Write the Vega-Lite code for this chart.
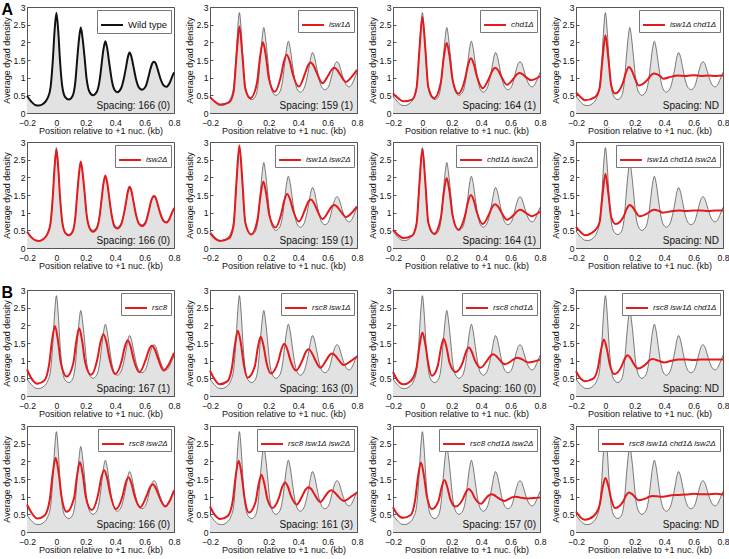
{
"$schema":"https://vega.github.io/schema/vega-lite/v6.json",
"background":"white",
"padding":{"left":1,"top":1,"right":0,"bottom":0},
"datasets":{
"dash":[{"x":0},{"x":0.2},{"x":0.4},{"x":0.6}],
"spacing":[
{"c":"Wild type","t":"Spacing: 166 (0)"},{"c":"isw1Δ","t":"Spacing: 159 (1)"},{"c":"chd1Δ","t":"Spacing: 164 (1)"},{"c":"isw1Δ chd1Δ","t":"Spacing: ND"},
{"c":"isw2Δ","t":"Spacing: 166 (0)"},{"c":"isw1Δ isw2Δ","t":"Spacing: 159 (1)"},{"c":"chd1Δ isw2Δ","t":"Spacing: 164 (1)"},{"c":"isw1Δ chd1Δ isw2Δ","t":"Spacing: ND"},
{"c":"rsc8","t":"Spacing: 167 (1)"},{"c":"rsc8 isw1Δ","t":"Spacing: 163 (0)"},{"c":"rsc8 chd1Δ","t":"Spacing: 160 (0)"},{"c":"rsc8 isw1Δ chd1Δ","t":"Spacing: ND"},
{"c":"rsc8 isw2Δ","t":"Spacing: 166 (0)"},{"c":"rsc8 isw1Δ isw2Δ","t":"Spacing: 161 (3)"},{"c":"rsc8 chd1Δ isw2Δ","t":"Spacing: 157 (0)"},{"c":"rsc8 isw1Δ chd1Δ isw2Δ","t":"Spacing: ND"}
],
"curves":[
{"c":"Wild type","x":[-0.2,-0.17,-0.14,-0.12,-0.09,-0.06,-0.04,-0.025,-0.012,0,0.012,0.025,0.04,0.06,0.085,0.11,0.128,0.142,0.154,0.166,0.178,0.191,0.206,0.225,0.248,0.275,0.295,0.308,0.32,0.333,0.346,0.36,0.378,0.396,0.415,0.44,0.46,0.474,0.486,0.498,0.51,0.524,0.542,0.562,0.583,0.608,0.626,0.64,0.652,0.664,0.676,0.69,0.708,0.728,0.748,0.77,0.785,0.8],
"y":[0.48,0.32,0.22,0.21,0.26,0.42,0.72,1.45,2.35,2.84,2.35,1.45,0.75,0.45,0.38,0.48,0.85,1.55,2.1,2.42,2.12,1.6,0.95,0.6,0.5,0.6,0.95,1.4,1.8,2.03,1.82,1.4,0.9,0.65,0.59,0.7,1.0,1.3,1.58,1.71,1.6,1.32,0.95,0.72,0.66,0.76,1.02,1.25,1.4,1.45,1.4,1.22,0.97,0.79,0.74,0.85,1.0,1.15]},
{"c":"isw2Δ","x":[-0.2,-0.17,-0.14,-0.12,-0.09,-0.06,-0.04,-0.025,-0.012,0,0.012,0.025,0.04,0.06,0.085,0.11,0.128,0.142,0.154,0.166,0.178,0.191,0.206,0.225,0.248,0.275,0.295,0.308,0.32,0.333,0.346,0.36,0.378,0.396,0.415,0.44,0.46,0.474,0.486,0.498,0.51,0.524,0.542,0.562,0.583,0.608,0.626,0.64,0.652,0.664,0.676,0.69,0.708,0.728,0.748,0.77,0.785,0.8],
"y":[0.46,0.3,0.21,0.2,0.25,0.41,0.7,1.42,2.3,2.78,2.3,1.42,0.73,0.43,0.36,0.46,0.84,1.55,2.12,2.45,2.14,1.6,0.93,0.57,0.46,0.56,0.93,1.4,1.82,2.05,1.84,1.4,0.88,0.6,0.55,0.66,0.98,1.3,1.6,1.73,1.62,1.32,0.93,0.68,0.62,0.73,1.0,1.26,1.42,1.47,1.42,1.22,0.96,0.77,0.72,0.83,0.98,1.12]},
{"c":"isw1Δ","x":[-0.2,-0.16,-0.13,-0.07,-0.04,-0.02,0,0.02,0.04,0.075,0.12,0.14,0.16,0.18,0.2,0.24,0.282,0.302,0.322,0.342,0.362,0.405,0.445,0.465,0.485,0.505,0.525,0.565,0.605,0.625,0.645,0.665,0.685,0.725,0.765,0.8],
"y":[0.45,0.3,0.24,0.3,0.59,1.6,2.45,1.65,0.69,0.42,0.86,1.57,2.0,1.62,0.99,0.6,1.03,1.44,1.65,1.47,1.12,0.75,1.10,1.33,1.43,1.34,1.15,0.84,1.07,1.21,1.28,1.22,1.09,0.88,1.03,1.22]},
{"c":"chd1Δ","x":[-0.2,-0.16,-0.13,-0.07,-0.04,-0.02,0,0.02,0.04,0.08,0.125,0.145,0.165,0.185,0.205,0.245,0.29,0.31,0.33,0.35,0.37,0.41,0.455,0.475,0.495,0.515,0.535,0.575,0.62,0.64,0.66,0.68,0.70,0.74,0.8],
"y":[0.55,0.4,0.33,0.38,0.70,1.80,2.72,1.82,0.73,0.42,0.86,1.56,1.99,1.60,0.95,0.55,0.96,1.35,1.55,1.38,1.05,0.7,1.0,1.19,1.28,1.21,1.05,0.8,0.97,1.08,1.13,1.10,1.03,0.93,1.04]},
{"c":"isw1Δ chd1Δ","x":[-0.2,-0.16,-0.14,-0.07,-0.04,-0.02,0,0.02,0.04,0.065,0.12,0.14,0.16,0.18,0.2,0.225,0.29,0.31,0.33,0.35,0.37,0.395,0.45,0.49,0.55,0.6,0.65,0.7,0.75,0.8],
"y":[0.58,0.42,0.36,0.45,0.69,1.51,2.2,1.55,0.77,0.55,0.86,1.15,1.3,1.20,0.99,0.78,0.96,1.07,1.12,1.10,1.05,0.97,1.03,1.06,1.05,1.07,1.05,1.06,1.05,1.06]},
{"c":"isw1Δ isw2Δ","x":[-0.2,-0.16,-0.13,-0.07,-0.04,-0.02,0,0.02,0.04,0.08,0.123,0.143,0.163,0.183,0.203,0.245,0.285,0.305,0.325,0.345,0.365,0.405,0.445,0.465,0.485,0.505,0.525,0.565,0.605,0.625,0.645,0.665,0.685,0.725,0.765,0.8],
"y":[0.42,0.25,0.2,0.28,0.63,1.87,2.9,1.91,0.72,0.38,0.80,1.47,1.88,1.52,0.94,0.58,0.97,1.34,1.53,1.37,1.07,0.75,1.07,1.28,1.37,1.29,1.11,0.82,1.03,1.16,1.22,1.17,1.06,0.88,1.0,1.18]},
{"c":"chd1Δ isw2Δ","x":[-0.2,-0.16,-0.13,-0.07,-0.04,-0.02,0,0.02,0.04,0.08,0.125,0.145,0.165,0.185,0.205,0.245,0.29,0.31,0.33,0.35,0.37,0.41,0.455,0.475,0.495,0.515,0.535,0.575,0.625,0.645,0.665,0.685,0.705,0.745,0.8],
"y":[0.52,0.35,0.28,0.35,0.68,1.84,2.8,1.86,0.72,0.4,0.84,1.55,1.98,1.58,0.93,0.52,0.92,1.30,1.5,1.34,1.02,0.68,0.97,1.16,1.24,1.17,1.03,0.8,0.95,1.04,1.08,1.05,0.99,0.9,1.03]},
{"c":"isw1Δ chd1Δ isw2Δ","x":[-0.2,-0.16,-0.14,-0.07,-0.04,-0.02,0,0.02,0.04,0.07,0.125,0.145,0.165,0.185,0.205,0.23,0.29,0.31,0.33,0.35,0.37,0.39,0.45,0.5,0.55,0.6,0.65,0.7,0.75,0.8],
"y":[0.6,0.42,0.36,0.5,0.72,1.47,2.1,1.54,0.87,0.68,0.90,1.11,1.22,1.16,1.03,0.9,0.99,1.05,1.08,1.07,1.04,1.0,1.04,1.06,1.05,1.06,1.06,1.05,1.06,1.06]},
{"c":"rsc8","x":[-0.2,-0.17,-0.13,-0.08,-0.05,-0.03,-0.01,0.01,0.03,0.07,0.115,0.135,0.155,0.175,0.195,0.235,0.28,0.30,0.32,0.34,0.36,0.4,0.445,0.465,0.485,0.505,0.525,0.565,0.61,0.63,0.65,0.67,0.69,0.73,0.765,0.8],
"y":[0.75,0.5,0.35,0.45,0.88,1.56,1.98,1.59,0.95,0.55,0.93,1.54,1.92,1.56,0.97,0.6,1.07,1.52,1.75,1.53,1.08,0.62,1.01,1.39,1.58,1.40,1.04,0.67,1.06,1.31,1.42,1.31,1.08,0.72,0.9,1.22]},
{"c":"rsc8 isw1Δ","x":[-0.2,-0.17,-0.135,-0.08,-0.05,-0.03,-0.01,0.01,0.03,0.055,0.105,0.125,0.145,0.165,0.185,0.215,0.265,0.285,0.305,0.325,0.345,0.385,0.43,0.45,0.47,0.49,0.51,0.55,0.59,0.61,0.63,0.65,0.67,0.71,0.755,0.8],
"y":[0.72,0.48,0.33,0.42,0.82,1.46,1.85,1.49,0.89,0.52,0.84,1.36,1.68,1.40,0.93,0.64,0.99,1.31,1.48,1.33,1.03,0.72,1.03,1.23,1.32,1.24,1.07,0.8,1.01,1.14,1.2,1.15,1.05,0.88,0.98,1.12]},
{"c":"rsc8 chd1Δ","x":[-0.2,-0.17,-0.13,-0.08,-0.04,-0.02,0,0.02,0.04,0.065,0.105,0.125,0.145,0.165,0.185,0.225,0.275,0.295,0.315,0.335,0.355,0.395,0.44,0.46,0.48,0.5,0.52,0.56,0.605,0.625,0.645,0.665,0.685,0.72,0.8],
"y":[0.68,0.45,0.33,0.42,0.80,1.42,1.8,1.46,0.91,0.57,0.86,1.33,1.62,1.36,0.94,0.68,0.96,1.23,1.37,1.26,1.03,0.8,1.0,1.12,1.18,1.14,1.05,0.9,0.99,1.05,1.08,1.06,1.02,0.95,1.03]},
{"c":"rsc8 isw1Δ chd1Δ","x":[-0.2,-0.17,-0.14,-0.08,-0.05,-0.03,-0.01,0.01,0.03,0.06,0.11,0.13,0.15,0.17,0.19,0.22,0.28,0.30,0.32,0.34,0.36,0.4,0.45,0.5,0.55,0.6,0.65,0.7,0.75,0.8],
"y":[0.7,0.5,0.42,0.5,0.81,1.30,1.6,1.33,0.89,0.62,0.84,1.04,1.15,1.08,0.93,0.78,0.92,1.01,1.05,1.03,1.0,0.95,1.0,1.03,1.03,1.02,1.03,1.03,1.03,1.03]},
{"c":"rsc8 isw2Δ","x":[-0.2,-0.17,-0.13,-0.08,-0.045,-0.025,-0.005,0.015,0.035,0.07,0.12,0.14,0.16,0.18,0.2,0.24,0.285,0.305,0.325,0.345,0.365,0.405,0.45,0.47,0.49,0.51,0.53,0.57,0.615,0.635,0.655,0.675,0.695,0.74,0.77,0.8],
"y":[0.78,0.55,0.38,0.47,0.92,1.65,2.1,1.68,1.0,0.57,0.96,1.59,1.98,1.61,1.0,0.62,1.08,1.53,1.75,1.53,1.10,0.65,1.02,1.37,1.55,1.38,1.05,0.7,1.04,1.25,1.35,1.25,1.05,0.72,0.88,1.18]},
{"c":"rsc8 isw1Δ isw2Δ","x":[-0.2,-0.17,-0.13,-0.08,-0.045,-0.025,-0.005,0.015,0.035,0.065,0.11,0.13,0.15,0.17,0.19,0.225,0.27,0.29,0.31,0.33,0.35,0.39,0.43,0.45,0.47,0.49,0.51,0.55,0.585,0.605,0.625,0.645,0.665,0.71,0.76,0.8],
"y":[0.72,0.5,0.37,0.45,0.89,1.59,2.02,1.62,0.96,0.55,0.85,1.33,1.62,1.36,0.94,0.68,0.98,1.26,1.4,1.28,1.03,0.78,1.04,1.2,1.27,1.21,1.07,0.85,1.02,1.13,1.18,1.13,1.04,0.88,1.0,1.12]},
{"c":"rsc8 chd1Δ isw2Δ","x":[-0.2,-0.17,-0.13,-0.08,-0.05,-0.03,-0.01,0.01,0.03,0.065,0.11,0.13,0.15,0.17,0.19,0.225,0.275,0.295,0.315,0.335,0.355,0.4,0.43,0.45,0.47,0.49,0.51,0.56,0.59,0.61,0.63,0.65,0.67,0.72,0.76,0.8],
"y":[0.7,0.5,0.4,0.48,0.89,1.56,1.97,1.61,1.02,0.65,0.88,1.25,1.47,1.26,0.93,0.72,0.93,1.12,1.22,1.14,0.97,0.8,0.94,1.03,1.07,1.04,0.98,0.88,0.94,0.98,1.0,0.99,0.97,0.95,0.96,0.98]},
{"c":"rsc8 isw1Δ chd1Δ isw2Δ","x":[-0.2,-0.17,-0.14,-0.08,-0.04,-0.02,0,0.02,0.04,0.065,0.12,0.14,0.16,0.18,0.2,0.225,0.28,0.3,0.32,0.35,0.39,0.45,0.5,0.55,0.6,0.65,0.7,0.75,0.8],
"y":[0.58,0.42,0.35,0.45,0.75,1.23,1.53,1.30,0.92,0.68,0.86,1.03,1.12,1.08,0.99,0.9,0.96,1.0,1.02,1.01,1.0,1.04,1.05,1.06,1.08,1.07,1.07,1.08,1.06]}
]},
"config":{
"font":"Liberation Sans",
"view":{"stroke":"#555","strokeWidth":1},
"axis":{"grid":false,"labelFontSize":8.6,"titleFontSize":9,"titleFontWeight":"normal","labelColor":"#111","titleColor":"#111","domainColor":"#555","tickColor":"#555","tickSize":-3,"labelOverlap":false,"labelFont":"Liberation Sans","titleFont":"Liberation Sans"},
"axisX":{"labelPadding":8,"titlePadding":0,"labelFlush":false},
"axisY":{"labelPadding":5,"titlePadding":2},
"legend":{"labelFont":"Liberation Sans","orient":"top-right","offset":3,"padding":3,"strokeColor":"#777","fillColor":"white","symbolType":"stroke","symbolStrokeWidth":2,"symbolSize":480,"labelFontSize":8,"labelFontStyle":"italic","labelColor":"#111"},
"title":{"anchor":"start","fontSize":16,"fontWeight":"bold","font":"Liberation Sans","offset":-15,"frame":"bounds","color":"black"}
},
"resolve":{"scale":{"color":"independent"},"legend":{"color":"independent"}},
"spacing":12,
"vconcat":[
{"title":"A","resolve":{"scale":{"color":"independent"},"legend":{"color":"independent"}},"spacing":0,
"vconcat":[
{"spacing":3,"resolve":{"scale":{"color":"independent"},"legend":{"color":"independent"}},"hconcat":[
{"width":147,"height":106,"data":{"name":"curves"},"encoding":{"x":{"field":"x","type":"quantitative","scale":{"domain":[-0.2,0.8],"nice":false},"axis":{"values":[-0.2,0,0.2,0.4,0.6,0.8],"format":"~g","title":"Position relative to +1 nuc. (kb)"}},"y":{"field":"y","type":"quantitative","scale":{"domain":[0,3],"nice":false},"axis":{"values":[0,0.5,1,1.5,2,2.5,3],"format":"~g","title":"Average dyad density"}}},
"layer":[
{"data":{"name":"dash"},"mark":{"type":"rule","color":"#8c8c8c","strokeDash":[4,3],"strokeWidth":0.8},"encoding":{"y":{"datum":0},"y2":{"datum":3}}},
{"transform":[{"filter":"datum.c=='Wild type'"},{"flatten":["x","y"]}],"mark":{"type":"area","fill":"#e2e2e2","interpolate":"monotone"}},
{"transform":[{"filter":"datum.c=='Wild type'"},{"flatten":["x","y"]}],"mark":{"type":"line","strokeWidth":2,"interpolate":"monotone"},"encoding":{"color":{"field":"c","type":"nominal","scale":{"range":["#111111"]},"legend":{"title":null,"labelFontStyle":"normal","labelFontSize":9.5}}}},
{"data":{"name":"spacing"},"transform":[{"filter":"datum.c=='Wild type'"}],"mark":{"type":"text","align":"right","baseline":"bottom","dx":-4,"dy":-2,"fontSize":10,"color":"#111"},"encoding":{"text":{"field":"t"},"x":{"value":"width"},"y":{"value":"height"}}}
]},
{"width":147,"height":106,"data":{"name":"curves"},"encoding":{"x":{"field":"x","type":"quantitative","scale":{"domain":[-0.2,0.8],"nice":false},"axis":{"values":[-0.2,0,0.2,0.4,0.6,0.8],"format":"~g","title":"Position relative to +1 nuc. (kb)"}},"y":{"field":"y","type":"quantitative","scale":{"domain":[0,3],"nice":false},"axis":{"values":[0,0.5,1,1.5,2,2.5,3],"format":"~g","title":"Average dyad density"}}},
"layer":[
{"data":{"name":"dash"},"mark":{"type":"rule","color":"#8c8c8c","strokeDash":[4,3],"strokeWidth":0.8},"encoding":{"y":{"datum":0},"y2":{"datum":3}}},
{"transform":[{"filter":"datum.c=='Wild type'"},{"flatten":["x","y"]}],"mark":{"type":"area","fill":"#e2e2e2","interpolate":"monotone"}},
{"transform":[{"filter":"datum.c=='Wild type'"},{"flatten":["x","y"]}],"mark":{"type":"line","strokeWidth":0.7,"color":"#444","interpolate":"monotone"}},
{"transform":[{"filter":"datum.c=='isw1Δ'"},{"flatten":["x","y"]}],"mark":{"type":"line","strokeWidth":2,"interpolate":"monotone"},"encoding":{"color":{"field":"c","type":"nominal","scale":{"range":["#e4191c"]},"legend":{"title":null}}}},
{"data":{"name":"spacing"},"transform":[{"filter":"datum.c=='isw1Δ'"}],"mark":{"type":"text","align":"right","baseline":"bottom","dx":-4,"dy":-2,"fontSize":10,"color":"#111"},"encoding":{"text":{"field":"t"},"x":{"value":"width"},"y":{"value":"height"}}}
]},
{"width":147,"height":106,"data":{"name":"curves"},"encoding":{"x":{"field":"x","type":"quantitative","scale":{"domain":[-0.2,0.8],"nice":false},"axis":{"values":[-0.2,0,0.2,0.4,0.6,0.8],"format":"~g","title":"Position relative to +1 nuc. (kb)"}},"y":{"field":"y","type":"quantitative","scale":{"domain":[0,3],"nice":false},"axis":{"values":[0,0.5,1,1.5,2,2.5,3],"format":"~g","title":"Average dyad density"}}},
"layer":[
{"data":{"name":"dash"},"mark":{"type":"rule","color":"#8c8c8c","strokeDash":[4,3],"strokeWidth":0.8},"encoding":{"y":{"datum":0},"y2":{"datum":3}}},
{"transform":[{"filter":"datum.c=='Wild type'"},{"flatten":["x","y"]}],"mark":{"type":"area","fill":"#e2e2e2","interpolate":"monotone"}},
{"transform":[{"filter":"datum.c=='Wild type'"},{"flatten":["x","y"]}],"mark":{"type":"line","strokeWidth":0.7,"color":"#444","interpolate":"monotone"}},
{"transform":[{"filter":"datum.c=='chd1Δ'"},{"flatten":["x","y"]}],"mark":{"type":"line","strokeWidth":2,"interpolate":"monotone"},"encoding":{"color":{"field":"c","type":"nominal","scale":{"range":["#e4191c"]},"legend":{"title":null}}}},
{"data":{"name":"spacing"},"transform":[{"filter":"datum.c=='chd1Δ'"}],"mark":{"type":"text","align":"right","baseline":"bottom","dx":-4,"dy":-2,"fontSize":10,"color":"#111"},"encoding":{"text":{"field":"t"},"x":{"value":"width"},"y":{"value":"height"}}}
]},
{"width":147,"height":106,"data":{"name":"curves"},"encoding":{"x":{"field":"x","type":"quantitative","scale":{"domain":[-0.2,0.8],"nice":false},"axis":{"values":[-0.2,0,0.2,0.4,0.6,0.8],"format":"~g","title":"Position relative to +1 nuc. (kb)"}},"y":{"field":"y","type":"quantitative","scale":{"domain":[0,3],"nice":false},"axis":{"values":[0,0.5,1,1.5,2,2.5,3],"format":"~g","title":"Average dyad density"}}},
"layer":[
{"data":{"name":"dash"},"mark":{"type":"rule","color":"#8c8c8c","strokeDash":[4,3],"strokeWidth":0.8},"encoding":{"y":{"datum":0},"y2":{"datum":3}}},
{"transform":[{"filter":"datum.c=='Wild type'"},{"flatten":["x","y"]}],"mark":{"type":"area","fill":"#e2e2e2","interpolate":"monotone"}},
{"transform":[{"filter":"datum.c=='Wild type'"},{"flatten":["x","y"]}],"mark":{"type":"line","strokeWidth":0.7,"color":"#444","interpolate":"monotone"}},
{"transform":[{"filter":"datum.c=='isw1Δ chd1Δ'"},{"flatten":["x","y"]}],"mark":{"type":"line","strokeWidth":2,"interpolate":"monotone"},"encoding":{"color":{"field":"c","type":"nominal","scale":{"range":["#e4191c"]},"legend":{"title":null}}}},
{"data":{"name":"spacing"},"transform":[{"filter":"datum.c=='isw1Δ chd1Δ'"}],"mark":{"type":"text","align":"right","baseline":"bottom","dx":-4,"dy":-2,"fontSize":10,"color":"#111"},"encoding":{"text":{"field":"t"},"x":{"value":"width"},"y":{"value":"height"}}}
]}
]},
{"spacing":3,"resolve":{"scale":{"color":"independent"},"legend":{"color":"independent"}},"hconcat":[
{"width":147,"height":106,"data":{"name":"curves"},"encoding":{"x":{"field":"x","type":"quantitative","scale":{"domain":[-0.2,0.8],"nice":false},"axis":{"values":[-0.2,0,0.2,0.4,0.6,0.8],"format":"~g","title":"Position relative to +1 nuc. (kb)"}},"y":{"field":"y","type":"quantitative","scale":{"domain":[0,3],"nice":false},"axis":{"values":[0,0.5,1,1.5,2,2.5,3],"format":"~g","title":"Average dyad density"}}},
"layer":[
{"data":{"name":"dash"},"mark":{"type":"rule","color":"#8c8c8c","strokeDash":[4,3],"strokeWidth":0.8},"encoding":{"y":{"datum":0},"y2":{"datum":3}}},
{"transform":[{"filter":"datum.c=='Wild type'"},{"flatten":["x","y"]}],"mark":{"type":"area","fill":"#e2e2e2","interpolate":"monotone"}},
{"transform":[{"filter":"datum.c=='Wild type'"},{"flatten":["x","y"]}],"mark":{"type":"line","strokeWidth":0.7,"color":"#444","interpolate":"monotone"}},
{"transform":[{"filter":"datum.c=='isw2Δ'"},{"flatten":["x","y"]}],"mark":{"type":"line","strokeWidth":2,"interpolate":"monotone"},"encoding":{"color":{"field":"c","type":"nominal","scale":{"range":["#e4191c"]},"legend":{"title":null}}}},
{"data":{"name":"spacing"},"transform":[{"filter":"datum.c=='isw2Δ'"}],"mark":{"type":"text","align":"right","baseline":"bottom","dx":-4,"dy":-2,"fontSize":10,"color":"#111"},"encoding":{"text":{"field":"t"},"x":{"value":"width"},"y":{"value":"height"}}}
]},
{"width":147,"height":106,"data":{"name":"curves"},"encoding":{"x":{"field":"x","type":"quantitative","scale":{"domain":[-0.2,0.8],"nice":false},"axis":{"values":[-0.2,0,0.2,0.4,0.6,0.8],"format":"~g","title":"Position relative to +1 nuc. (kb)"}},"y":{"field":"y","type":"quantitative","scale":{"domain":[0,3],"nice":false},"axis":{"values":[0,0.5,1,1.5,2,2.5,3],"format":"~g","title":"Average dyad density"}}},
"layer":[
{"data":{"name":"dash"},"mark":{"type":"rule","color":"#8c8c8c","strokeDash":[4,3],"strokeWidth":0.8},"encoding":{"y":{"datum":0},"y2":{"datum":3}}},
{"transform":[{"filter":"datum.c=='Wild type'"},{"flatten":["x","y"]}],"mark":{"type":"area","fill":"#e2e2e2","interpolate":"monotone"}},
{"transform":[{"filter":"datum.c=='Wild type'"},{"flatten":["x","y"]}],"mark":{"type":"line","strokeWidth":0.7,"color":"#444","interpolate":"monotone"}},
{"transform":[{"filter":"datum.c=='isw1Δ isw2Δ'"},{"flatten":["x","y"]}],"mark":{"type":"line","strokeWidth":2,"interpolate":"monotone"},"encoding":{"color":{"field":"c","type":"nominal","scale":{"range":["#e4191c"]},"legend":{"title":null}}}},
{"data":{"name":"spacing"},"transform":[{"filter":"datum.c=='isw1Δ isw2Δ'"}],"mark":{"type":"text","align":"right","baseline":"bottom","dx":-4,"dy":-2,"fontSize":10,"color":"#111"},"encoding":{"text":{"field":"t"},"x":{"value":"width"},"y":{"value":"height"}}}
]},
{"width":147,"height":106,"data":{"name":"curves"},"encoding":{"x":{"field":"x","type":"quantitative","scale":{"domain":[-0.2,0.8],"nice":false},"axis":{"values":[-0.2,0,0.2,0.4,0.6,0.8],"format":"~g","title":"Position relative to +1 nuc. (kb)"}},"y":{"field":"y","type":"quantitative","scale":{"domain":[0,3],"nice":false},"axis":{"values":[0,0.5,1,1.5,2,2.5,3],"format":"~g","title":"Average dyad density"}}},
"layer":[
{"data":{"name":"dash"},"mark":{"type":"rule","color":"#8c8c8c","strokeDash":[4,3],"strokeWidth":0.8},"encoding":{"y":{"datum":0},"y2":{"datum":3}}},
{"transform":[{"filter":"datum.c=='Wild type'"},{"flatten":["x","y"]}],"mark":{"type":"area","fill":"#e2e2e2","interpolate":"monotone"}},
{"transform":[{"filter":"datum.c=='Wild type'"},{"flatten":["x","y"]}],"mark":{"type":"line","strokeWidth":0.7,"color":"#444","interpolate":"monotone"}},
{"transform":[{"filter":"datum.c=='chd1Δ isw2Δ'"},{"flatten":["x","y"]}],"mark":{"type":"line","strokeWidth":2,"interpolate":"monotone"},"encoding":{"color":{"field":"c","type":"nominal","scale":{"range":["#e4191c"]},"legend":{"title":null}}}},
{"data":{"name":"spacing"},"transform":[{"filter":"datum.c=='chd1Δ isw2Δ'"}],"mark":{"type":"text","align":"right","baseline":"bottom","dx":-4,"dy":-2,"fontSize":10,"color":"#111"},"encoding":{"text":{"field":"t"},"x":{"value":"width"},"y":{"value":"height"}}}
]},
{"width":147,"height":106,"data":{"name":"curves"},"encoding":{"x":{"field":"x","type":"quantitative","scale":{"domain":[-0.2,0.8],"nice":false},"axis":{"values":[-0.2,0,0.2,0.4,0.6,0.8],"format":"~g","title":"Position relative to +1 nuc. (kb)"}},"y":{"field":"y","type":"quantitative","scale":{"domain":[0,3],"nice":false},"axis":{"values":[0,0.5,1,1.5,2,2.5,3],"format":"~g","title":"Average dyad density"}}},
"layer":[
{"data":{"name":"dash"},"mark":{"type":"rule","color":"#8c8c8c","strokeDash":[4,3],"strokeWidth":0.8},"encoding":{"y":{"datum":0},"y2":{"datum":3}}},
{"transform":[{"filter":"datum.c=='Wild type'"},{"flatten":["x","y"]}],"mark":{"type":"area","fill":"#e2e2e2","interpolate":"monotone"}},
{"transform":[{"filter":"datum.c=='Wild type'"},{"flatten":["x","y"]}],"mark":{"type":"line","strokeWidth":0.7,"color":"#444","interpolate":"monotone"}},
{"transform":[{"filter":"datum.c=='isw1Δ chd1Δ isw2Δ'"},{"flatten":["x","y"]}],"mark":{"type":"line","strokeWidth":2,"interpolate":"monotone"},"encoding":{"color":{"field":"c","type":"nominal","scale":{"range":["#e4191c"]},"legend":{"title":null}}}},
{"data":{"name":"spacing"},"transform":[{"filter":"datum.c=='isw1Δ chd1Δ isw2Δ'"}],"mark":{"type":"text","align":"right","baseline":"bottom","dx":-4,"dy":-2,"fontSize":10,"color":"#111"},"encoding":{"text":{"field":"t"},"x":{"value":"width"},"y":{"value":"height"}}}
]}
]}
]},
{"title":"B","resolve":{"scale":{"color":"independent"},"legend":{"color":"independent"}},"spacing":1,
"vconcat":[
{"spacing":3,"resolve":{"scale":{"color":"independent"},"legend":{"color":"independent"}},"hconcat":[
{"width":147,"height":106,"data":{"name":"curves"},"encoding":{"x":{"field":"x","type":"quantitative","scale":{"domain":[-0.2,0.8],"nice":false},"axis":{"values":[-0.2,0,0.2,0.4,0.6,0.8],"format":"~g","title":"Position relative to +1 nuc. (kb)"}},"y":{"field":"y","type":"quantitative","scale":{"domain":[0,3],"nice":false},"axis":{"values":[0,0.5,1,1.5,2,2.5,3],"format":"~g","title":"Average dyad density"}}},
"layer":[
{"data":{"name":"dash"},"mark":{"type":"rule","color":"#8c8c8c","strokeDash":[4,3],"strokeWidth":0.8},"encoding":{"y":{"datum":0},"y2":{"datum":3}}},
{"transform":[{"filter":"datum.c=='Wild type'"},{"flatten":["x","y"]}],"mark":{"type":"area","fill":"#e2e2e2","interpolate":"monotone"}},
{"transform":[{"filter":"datum.c=='Wild type'"},{"flatten":["x","y"]}],"mark":{"type":"line","strokeWidth":0.7,"color":"#444","interpolate":"monotone"}},
{"transform":[{"filter":"datum.c=='rsc8'"},{"flatten":["x","y"]}],"mark":{"type":"line","strokeWidth":2,"interpolate":"monotone"},"encoding":{"color":{"field":"c","type":"nominal","scale":{"range":["#e4191c"]},"legend":{"title":null}}}},
{"data":{"name":"spacing"},"transform":[{"filter":"datum.c=='rsc8'"}],"mark":{"type":"text","align":"right","baseline":"bottom","dx":-4,"dy":-2,"fontSize":10,"color":"#111"},"encoding":{"text":{"field":"t"},"x":{"value":"width"},"y":{"value":"height"}}}
]},
{"width":147,"height":106,"data":{"name":"curves"},"encoding":{"x":{"field":"x","type":"quantitative","scale":{"domain":[-0.2,0.8],"nice":false},"axis":{"values":[-0.2,0,0.2,0.4,0.6,0.8],"format":"~g","title":"Position relative to +1 nuc. (kb)"}},"y":{"field":"y","type":"quantitative","scale":{"domain":[0,3],"nice":false},"axis":{"values":[0,0.5,1,1.5,2,2.5,3],"format":"~g","title":"Average dyad density"}}},
"layer":[
{"data":{"name":"dash"},"mark":{"type":"rule","color":"#8c8c8c","strokeDash":[4,3],"strokeWidth":0.8},"encoding":{"y":{"datum":0},"y2":{"datum":3}}},
{"transform":[{"filter":"datum.c=='Wild type'"},{"flatten":["x","y"]}],"mark":{"type":"area","fill":"#e2e2e2","interpolate":"monotone"}},
{"transform":[{"filter":"datum.c=='Wild type'"},{"flatten":["x","y"]}],"mark":{"type":"line","strokeWidth":0.7,"color":"#444","interpolate":"monotone"}},
{"transform":[{"filter":"datum.c=='rsc8 isw1Δ'"},{"flatten":["x","y"]}],"mark":{"type":"line","strokeWidth":2,"interpolate":"monotone"},"encoding":{"color":{"field":"c","type":"nominal","scale":{"range":["#e4191c"]},"legend":{"title":null}}}},
{"data":{"name":"spacing"},"transform":[{"filter":"datum.c=='rsc8 isw1Δ'"}],"mark":{"type":"text","align":"right","baseline":"bottom","dx":-4,"dy":-2,"fontSize":10,"color":"#111"},"encoding":{"text":{"field":"t"},"x":{"value":"width"},"y":{"value":"height"}}}
]},
{"width":147,"height":106,"data":{"name":"curves"},"encoding":{"x":{"field":"x","type":"quantitative","scale":{"domain":[-0.2,0.8],"nice":false},"axis":{"values":[-0.2,0,0.2,0.4,0.6,0.8],"format":"~g","title":"Position relative to +1 nuc. (kb)"}},"y":{"field":"y","type":"quantitative","scale":{"domain":[0,3],"nice":false},"axis":{"values":[0,0.5,1,1.5,2,2.5,3],"format":"~g","title":"Average dyad density"}}},
"layer":[
{"data":{"name":"dash"},"mark":{"type":"rule","color":"#8c8c8c","strokeDash":[4,3],"strokeWidth":0.8},"encoding":{"y":{"datum":0},"y2":{"datum":3}}},
{"transform":[{"filter":"datum.c=='Wild type'"},{"flatten":["x","y"]}],"mark":{"type":"area","fill":"#e2e2e2","interpolate":"monotone"}},
{"transform":[{"filter":"datum.c=='Wild type'"},{"flatten":["x","y"]}],"mark":{"type":"line","strokeWidth":0.7,"color":"#444","interpolate":"monotone"}},
{"transform":[{"filter":"datum.c=='rsc8 chd1Δ'"},{"flatten":["x","y"]}],"mark":{"type":"line","strokeWidth":2,"interpolate":"monotone"},"encoding":{"color":{"field":"c","type":"nominal","scale":{"range":["#e4191c"]},"legend":{"title":null}}}},
{"data":{"name":"spacing"},"transform":[{"filter":"datum.c=='rsc8 chd1Δ'"}],"mark":{"type":"text","align":"right","baseline":"bottom","dx":-4,"dy":-2,"fontSize":10,"color":"#111"},"encoding":{"text":{"field":"t"},"x":{"value":"width"},"y":{"value":"height"}}}
]},
{"width":147,"height":106,"data":{"name":"curves"},"encoding":{"x":{"field":"x","type":"quantitative","scale":{"domain":[-0.2,0.8],"nice":false},"axis":{"values":[-0.2,0,0.2,0.4,0.6,0.8],"format":"~g","title":"Position relative to +1 nuc. (kb)"}},"y":{"field":"y","type":"quantitative","scale":{"domain":[0,3],"nice":false},"axis":{"values":[0,0.5,1,1.5,2,2.5,3],"format":"~g","title":"Average dyad density"}}},
"layer":[
{"data":{"name":"dash"},"mark":{"type":"rule","color":"#8c8c8c","strokeDash":[4,3],"strokeWidth":0.8},"encoding":{"y":{"datum":0},"y2":{"datum":3}}},
{"transform":[{"filter":"datum.c=='Wild type'"},{"flatten":["x","y"]}],"mark":{"type":"area","fill":"#e2e2e2","interpolate":"monotone"}},
{"transform":[{"filter":"datum.c=='Wild type'"},{"flatten":["x","y"]}],"mark":{"type":"line","strokeWidth":0.7,"color":"#444","interpolate":"monotone"}},
{"transform":[{"filter":"datum.c=='rsc8 isw1Δ chd1Δ'"},{"flatten":["x","y"]}],"mark":{"type":"line","strokeWidth":2,"interpolate":"monotone"},"encoding":{"color":{"field":"c","type":"nominal","scale":{"range":["#e4191c"]},"legend":{"title":null}}}},
{"data":{"name":"spacing"},"transform":[{"filter":"datum.c=='rsc8 isw1Δ chd1Δ'"}],"mark":{"type":"text","align":"right","baseline":"bottom","dx":-4,"dy":-2,"fontSize":10,"color":"#111"},"encoding":{"text":{"field":"t"},"x":{"value":"width"},"y":{"value":"height"}}}
]}
]},
{"spacing":3,"resolve":{"scale":{"color":"independent"},"legend":{"color":"independent"}},"hconcat":[
{"width":147,"height":106,"data":{"name":"curves"},"encoding":{"x":{"field":"x","type":"quantitative","scale":{"domain":[-0.2,0.8],"nice":false},"axis":{"values":[-0.2,0,0.2,0.4,0.6,0.8],"format":"~g","title":"Position relative to +1 nuc. (kb)"}},"y":{"field":"y","type":"quantitative","scale":{"domain":[0,3],"nice":false},"axis":{"values":[0,0.5,1,1.5,2,2.5,3],"format":"~g","title":"Average dyad density"}}},
"layer":[
{"data":{"name":"dash"},"mark":{"type":"rule","color":"#8c8c8c","strokeDash":[4,3],"strokeWidth":0.8},"encoding":{"y":{"datum":0},"y2":{"datum":3}}},
{"transform":[{"filter":"datum.c=='Wild type'"},{"flatten":["x","y"]}],"mark":{"type":"area","fill":"#e2e2e2","interpolate":"monotone"}},
{"transform":[{"filter":"datum.c=='Wild type'"},{"flatten":["x","y"]}],"mark":{"type":"line","strokeWidth":0.7,"color":"#444","interpolate":"monotone"}},
{"transform":[{"filter":"datum.c=='rsc8 isw2Δ'"},{"flatten":["x","y"]}],"mark":{"type":"line","strokeWidth":2,"interpolate":"monotone"},"encoding":{"color":{"field":"c","type":"nominal","scale":{"range":["#e4191c"]},"legend":{"title":null}}}},
{"data":{"name":"spacing"},"transform":[{"filter":"datum.c=='rsc8 isw2Δ'"}],"mark":{"type":"text","align":"right","baseline":"bottom","dx":-4,"dy":-2,"fontSize":10,"color":"#111"},"encoding":{"text":{"field":"t"},"x":{"value":"width"},"y":{"value":"height"}}}
]},
{"width":147,"height":106,"data":{"name":"curves"},"encoding":{"x":{"field":"x","type":"quantitative","scale":{"domain":[-0.2,0.8],"nice":false},"axis":{"values":[-0.2,0,0.2,0.4,0.6,0.8],"format":"~g","title":"Position relative to +1 nuc. (kb)"}},"y":{"field":"y","type":"quantitative","scale":{"domain":[0,3],"nice":false},"axis":{"values":[0,0.5,1,1.5,2,2.5,3],"format":"~g","title":"Average dyad density"}}},
"layer":[
{"data":{"name":"dash"},"mark":{"type":"rule","color":"#8c8c8c","strokeDash":[4,3],"strokeWidth":0.8},"encoding":{"y":{"datum":0},"y2":{"datum":3}}},
{"transform":[{"filter":"datum.c=='Wild type'"},{"flatten":["x","y"]}],"mark":{"type":"area","fill":"#e2e2e2","interpolate":"monotone"}},
{"transform":[{"filter":"datum.c=='Wild type'"},{"flatten":["x","y"]}],"mark":{"type":"line","strokeWidth":0.7,"color":"#444","interpolate":"monotone"}},
{"transform":[{"filter":"datum.c=='rsc8 isw1Δ isw2Δ'"},{"flatten":["x","y"]}],"mark":{"type":"line","strokeWidth":2,"interpolate":"monotone"},"encoding":{"color":{"field":"c","type":"nominal","scale":{"range":["#e4191c"]},"legend":{"title":null}}}},
{"data":{"name":"spacing"},"transform":[{"filter":"datum.c=='rsc8 isw1Δ isw2Δ'"}],"mark":{"type":"text","align":"right","baseline":"bottom","dx":-4,"dy":-2,"fontSize":10,"color":"#111"},"encoding":{"text":{"field":"t"},"x":{"value":"width"},"y":{"value":"height"}}}
]},
{"width":147,"height":106,"data":{"name":"curves"},"encoding":{"x":{"field":"x","type":"quantitative","scale":{"domain":[-0.2,0.8],"nice":false},"axis":{"values":[-0.2,0,0.2,0.4,0.6,0.8],"format":"~g","title":"Position relative to +1 nuc. (kb)"}},"y":{"field":"y","type":"quantitative","scale":{"domain":[0,3],"nice":false},"axis":{"values":[0,0.5,1,1.5,2,2.5,3],"format":"~g","title":"Average dyad density"}}},
"layer":[
{"data":{"name":"dash"},"mark":{"type":"rule","color":"#8c8c8c","strokeDash":[4,3],"strokeWidth":0.8},"encoding":{"y":{"datum":0},"y2":{"datum":3}}},
{"transform":[{"filter":"datum.c=='Wild type'"},{"flatten":["x","y"]}],"mark":{"type":"area","fill":"#e2e2e2","interpolate":"monotone"}},
{"transform":[{"filter":"datum.c=='Wild type'"},{"flatten":["x","y"]}],"mark":{"type":"line","strokeWidth":0.7,"color":"#444","interpolate":"monotone"}},
{"transform":[{"filter":"datum.c=='rsc8 chd1Δ isw2Δ'"},{"flatten":["x","y"]}],"mark":{"type":"line","strokeWidth":2,"interpolate":"monotone"},"encoding":{"color":{"field":"c","type":"nominal","scale":{"range":["#e4191c"]},"legend":{"title":null}}}},
{"data":{"name":"spacing"},"transform":[{"filter":"datum.c=='rsc8 chd1Δ isw2Δ'"}],"mark":{"type":"text","align":"right","baseline":"bottom","dx":-4,"dy":-2,"fontSize":10,"color":"#111"},"encoding":{"text":{"field":"t"},"x":{"value":"width"},"y":{"value":"height"}}}
]},
{"width":147,"height":106,"data":{"name":"curves"},"encoding":{"x":{"field":"x","type":"quantitative","scale":{"domain":[-0.2,0.8],"nice":false},"axis":{"values":[-0.2,0,0.2,0.4,0.6,0.8],"format":"~g","title":"Position relative to +1 nuc. (kb)"}},"y":{"field":"y","type":"quantitative","scale":{"domain":[0,3],"nice":false},"axis":{"values":[0,0.5,1,1.5,2,2.5,3],"format":"~g","title":"Average dyad density"}}},
"layer":[
{"data":{"name":"dash"},"mark":{"type":"rule","color":"#8c8c8c","strokeDash":[4,3],"strokeWidth":0.8},"encoding":{"y":{"datum":0},"y2":{"datum":3}}},
{"transform":[{"filter":"datum.c=='Wild type'"},{"flatten":["x","y"]}],"mark":{"type":"area","fill":"#e2e2e2","interpolate":"monotone"}},
{"transform":[{"filter":"datum.c=='Wild type'"},{"flatten":["x","y"]}],"mark":{"type":"line","strokeWidth":0.7,"color":"#444","interpolate":"monotone"}},
{"transform":[{"filter":"datum.c=='rsc8 isw1Δ chd1Δ isw2Δ'"},{"flatten":["x","y"]}],"mark":{"type":"line","strokeWidth":2,"interpolate":"monotone"},"encoding":{"color":{"field":"c","type":"nominal","scale":{"range":["#e4191c"]},"legend":{"title":null}}}},
{"data":{"name":"spacing"},"transform":[{"filter":"datum.c=='rsc8 isw1Δ chd1Δ isw2Δ'"}],"mark":{"type":"text","align":"right","baseline":"bottom","dx":-4,"dy":-2,"fontSize":10,"color":"#111"},"encoding":{"text":{"field":"t"},"x":{"value":"width"},"y":{"value":"height"}}}
]}
]}
]}
]
}
